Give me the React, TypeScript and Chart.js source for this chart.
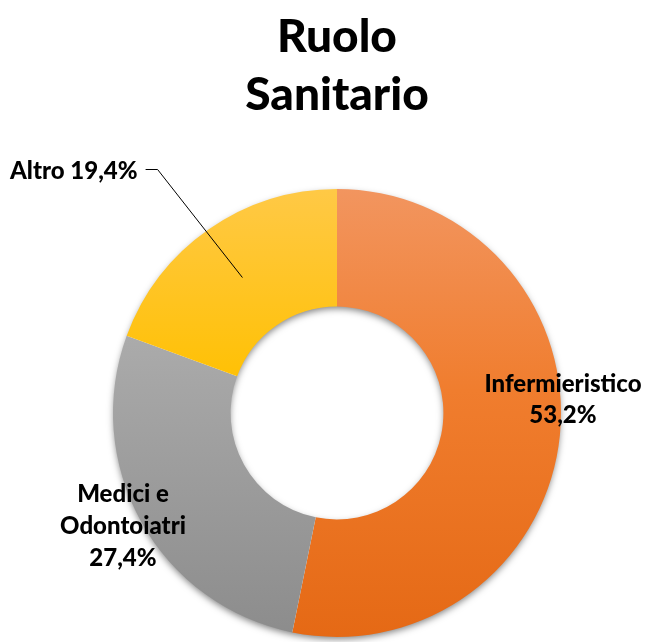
import { useEffect, useRef } from "react";
import { Chart, registerables } from "chart.js";

Chart.register(...registerables);

const titleLines = ["Ruolo", "Sanitario"];
const categories = ["Infermieristico", "Medici e Odontoiatri", "Altro"];
const values = [53.2, 27.4, 19.4];
const labelLines = [["Infermieristico", "53,2%"], ["Medici e", "Odontoiatri", "27,4%"], ["Altro 19,4%"]];
const colorsTop = ["#F2955F", "#BBBBBB", "#FFC946"];
const colorsMid = ["#F07D2E", "#A5A5A5", "#FFC000"];
const colorsBottom = ["#E56915", "#8C8C8C", "#E8AC00"];

const FONT = "Lato, 'Open Sans', sans-serif";

const labelPlugin = {
  id: "labelPlugin",
  beforeDatasetsDraw(chart: any) {
    const meta = chart.getDatasetMeta(0);
    const a = meta.data[0];
    if (!a) return;
    const ctx = chart.ctx;
    ctx.save();
    ctx.shadowColor = "rgba(0,0,0,0.5)";
    ctx.shadowBlur = 7;
    ctx.shadowOffsetX = 0;
    ctx.shadowOffsetY = 3;
    ctx.fillStyle = "#ffffff";
    ctx.beginPath();
    ctx.arc(a.x, a.y, a.outerRadius - 1, 0, Math.PI * 2);
    ctx.arc(a.x, a.y, a.innerRadius + 1, 0, Math.PI * 2, true);
    ctx.closePath();
    ctx.fill();
    ctx.restore();
  },
  afterDraw(chart: any) {
    const ctx = chart.ctx;
    const meta = chart.getDatasetMeta(0);
    const a0 = meta.data[0];
    const cx = a0.x;
    const cy = a0.y;
    const R = a0.outerRadius;
    const r = a0.innerRadius;
    ctx.save();
    ctx.fillStyle = "#000000";
    ctx.textAlign = "center";
    ctx.textBaseline = "alphabetic";
    // title
    ctx.font = `900 46px ${FONT}`;
    ctx.fillText(titleLines[0], cx, 52);
    ctx.fillText(titleLines[1], cx, 110);

    ctx.font = `900 24px ${FONT}`;
    // Infermieristico
    const l0 = labelLines[0];
    const b0 = cy - 21;
    l0.forEach((t, i) => ctx.fillText(t, cx + R + 2, b0 + i * 31));
    // Medici
    const l1 = labelLines[1];
    const b1 = cy + 89;
    l1.forEach((t, i) => ctx.fillText(t, cx - 214, b1 + i * 32));
    // Altro with leader line
    const a2 = meta.data[2];
    const mid = (a2.startAngle + a2.endAngle) / 2;
    const rm = (R + r) / 2;
    const px = cx + Math.cos(mid) * rm;
    const py = cy + Math.sin(mid) * rm;
    ctx.textAlign = "left";
    ctx.fillText(labelLines[2][0], 10, 179);
    const tw = ctx.measureText(labelLines[2][0]).width;
    const lx = 10 + tw + 8;
    ctx.strokeStyle = "#000000";
    ctx.lineWidth = 1;
    ctx.beginPath();
    ctx.moveTo(lx, 169.5);
    ctx.lineTo(lx + 12, 169.5);
    ctx.lineTo(px, py);
    ctx.stroke();
    ctx.restore();
  },
};

export default function App() {
  const ref = useRef<HTMLCanvasElement>(null);
  useEffect(() => {
    if (!ref.current) return;
    const chart = new Chart(ref.current, {
      type: "doughnut",
      data: {
        labels: categories,
        datasets: [
          {
            data: values,
            borderWidth: 0,
            backgroundColor: (c: any) => {
              const ch = c.chart;
              const area = ch.chartArea;
              if (!area) return colorsMid[c.dataIndex];
              const g = ch.ctx.createLinearGradient(0, area.top, 0, area.bottom);
              g.addColorStop(0, colorsTop[c.dataIndex]);
              g.addColorStop(0.45, colorsMid[c.dataIndex]);
              g.addColorStop(1, colorsBottom[c.dataIndex]);
              return g;
            },
          },
        ],
      },
      options: {
        responsive: false,
        animation: false,
        cutout: "47.5%",
        layout: { padding: { left: 113, right: 86, top: 189, bottom: 5 } },
        plugins: {
          legend: { display: false },
          title: { display: false },
          tooltip: { enabled: false },
        },
      },
      plugins: [labelPlugin],
    });
    return () => chart.destroy();
  }, []);
  return (
    <div style={{ position: "absolute", left: 0, top: 0, width: 647, height: 642, background: "#fff" }}>
      <canvas ref={ref} width={647} height={642} style={{ display: "block" }} />
    </div>
  );
}
